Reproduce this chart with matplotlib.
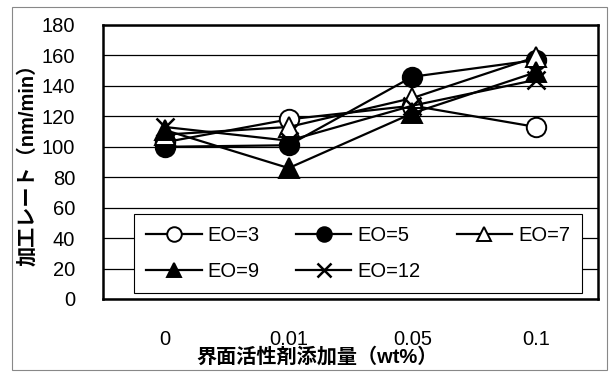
import matplotlib.pyplot as plt
from matplotlib.patches import Rectangle

plt.rcParams['font.family'] = ['Liberation Sans', 'Noto Sans CJK JP', 'DejaVu Sans']

# data
categories = ["0", "0.01", "0.05", "0.1"]
eo3 = [103, 118, 127, 113]
eo5 = [100, 101, 146, 157]
eo7 = [108, 113, 132, 159]
eo9 = [111, 86, 122, 149]
eo12 = [113, 104, 127, 144]

series = [
    ("EO=3", eo3, dict(marker="o", mfc="white", ms=14)),
    ("EO=5", eo5, dict(marker="o", mfc="black", ms=14)),
    ("EO=7", eo7, dict(marker="^", mfc="white", ms=14)),
    ("EO=9", eo9, dict(marker="^", mfc="black", ms=14)),
    ("EO=12", eo12, dict(marker="x", mfc="black", ms=13, mew=1.8)),
]

fig = plt.figure(figsize=(6.10, 3.75), dpi=100)
ax = fig.add_axes([103 / 610, 1 - 299 / 375, 495 / 610, 274 / 375])

x = range(len(categories))
handles = {}
for name, vals, style in series:
    kw = dict(color="black", lw=1.6, mec="black", mew=1.4)
    kw.update(style)
    h, = ax.plot(x, vals, label=name, zorder=3, **kw)
    handles[name] = h

ax.set_xlim(-0.5, 3.5)
ax.set_ylim(0, 180)
ax.set_yticks(range(0, 181, 20))
ax.set_xticks(list(x))
ax.set_xticklabels(categories)
ax.tick_params(length=0, labelsize=14.5)
ax.tick_params(axis="y", pad=20)
ax.tick_params(axis="x", pad=22)
ax.yaxis.grid(True, color="black", lw=0.9)
ax.set_axisbelow(True)
for s in ax.spines.values():
    s.set_linewidth(1.8)

order = ["EO=3", "EO=9", "EO=5", "EO=12", "EO=7"]
leg = ax.legend([handles[n] for n in order], order, ncol=3, loc="lower left",
                bbox_to_anchor=(0.063, 0.022, 0.905, 0.306), mode="expand",
                fontsize=14.5, handlelength=2.75, handletextpad=0.3,
                markerscale=0.75, borderaxespad=0, fancybox=False,
                framealpha=1, edgecolor="black", labelspacing=0.85,
                borderpad=0.6)
leg.get_frame().set_linewidth(0.8)
leg.set_zorder(5)

fig.text(27 / 610, 1 - 160 / 375, "加工レート（nm/min）", rotation=90,
         ha="center", va="center", fontsize=14.5, fontweight="bold")
fig.text(317 / 610, 1 - 357 / 375, "界面活性剤添加量（wt%）",
         ha="center", va="center", fontsize=14.5, fontweight="bold")

fig.patches.append(Rectangle((12 / 610, 1 - 370 / 375), 595 / 610, 363 / 375,
                             transform=fig.transFigure, fill=False,
                             edgecolor="#888888", lw=0.8))

fig.savefig("out.png", dpi=100)
